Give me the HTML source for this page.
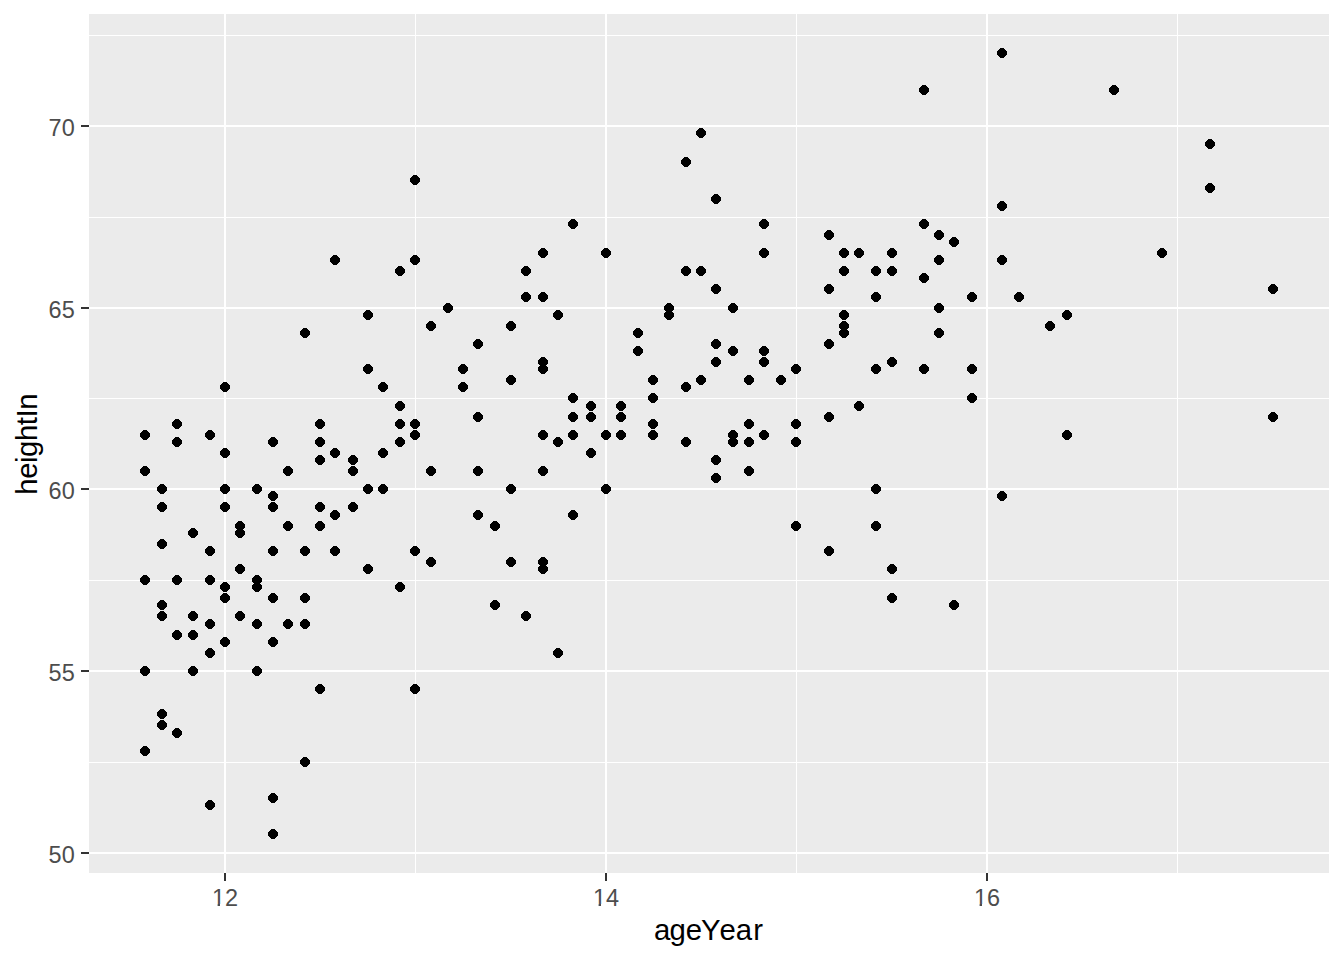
<!DOCTYPE html>
<html><head><meta charset="utf-8"><title>plot</title>
<style>
html,body{margin:0;padding:0;background:#fff;}
body{width:1344px;height:960px;overflow:hidden;}
svg{display:block;}
text{font-family:"Liberation Sans",sans-serif;}
.tk{font-size:23.47px;fill:#4D4D4D;}
.ti{font-size:29.33px;fill:#000;}
</style></head><body>
<svg width="1344" height="960" viewBox="0 0 1344 960">
<rect x="0" y="0" width="1344" height="960" fill="#fff"/>
<g shape-rendering="crispEdges">
<rect x="89" y="14" width="1240" height="859" fill="#EBEBEB"/>
<g fill="#fff">
<rect x="89" y="762" width="1240" height="1"/><rect x="89" y="580" width="1240" height="1"/><rect x="89" y="398" width="1240" height="1"/><rect x="89" y="217" width="1240" height="1"/><rect x="89" y="35" width="1240" height="1"/><rect x="415" y="14" width="1" height="859"/><rect x="796" y="14" width="1" height="859"/><rect x="1177" y="14" width="1" height="859"/>
<rect x="89" y="852" width="1240" height="2"/><rect x="89" y="670" width="1240" height="2"/><rect x="89" y="488" width="1240" height="2"/><rect x="89" y="307" width="1240" height="2"/><rect x="89" y="125" width="1240" height="2"/><rect x="224" y="14" width="2" height="859"/><rect x="605" y="14" width="2" height="859"/><rect x="986" y="14" width="2" height="859"/>
</g>
<g fill="#333">
<rect x="81" y="852" width="8" height="2"/><rect x="81" y="670" width="8" height="2"/><rect x="81" y="488" width="8" height="2"/><rect x="81" y="307" width="8" height="2"/><rect x="81" y="125" width="8" height="2"/><rect x="224" y="873" width="2" height="8"/><rect x="605" y="873" width="2" height="8"/><rect x="986" y="873" width="2" height="8"/>
</g>
<g fill="#000">
<path d="M143,746h4v1h1v1h1v1h1v4h-1v1h-1v1h-1v1h-4v-1h-1v-1h-1v-1h-1v-4h1v-1h1v-1h1z"/>
<path d="M143,666h4v1h1v1h1v1h1v4h-1v1h-1v1h-1v1h-4v-1h-1v-1h-1v-1h-1v-4h1v-1h1v-1h1z"/>
<path d="M143,575h4v1h1v1h1v1h1v4h-1v1h-1v1h-1v1h-4v-1h-1v-1h-1v-1h-1v-4h1v-1h1v-1h1z"/>
<path d="M143,466h4v1h1v1h1v1h1v4h-1v1h-1v1h-1v1h-4v-1h-1v-1h-1v-1h-1v-4h1v-1h1v-1h1z"/>
<path d="M143,430h4v1h1v1h1v1h1v4h-1v1h-1v1h-1v1h-4v-1h-1v-1h-1v-1h-1v-4h1v-1h1v-1h1z"/>
<path d="M160,720h4v1h1v1h1v1h1v4h-1v1h-1v1h-1v1h-4v-1h-1v-1h-1v-1h-1v-4h1v-1h1v-1h1z"/>
<path d="M160,709h4v1h1v1h1v1h1v4h-1v1h-1v1h-1v1h-4v-1h-1v-1h-1v-1h-1v-4h1v-1h1v-1h1z"/>
<path d="M160,611h4v1h1v1h1v1h1v4h-1v1h-1v1h-1v1h-4v-1h-1v-1h-1v-1h-1v-4h1v-1h1v-1h1z"/>
<path d="M160,600h4v1h1v1h1v1h1v4h-1v1h-1v1h-1v1h-4v-1h-1v-1h-1v-1h-1v-4h1v-1h1v-1h1z"/>
<path d="M160,539h4v1h1v1h1v1h1v4h-1v1h-1v1h-1v1h-4v-1h-1v-1h-1v-1h-1v-4h1v-1h1v-1h1z"/>
<path d="M160,502h4v1h1v1h1v1h1v4h-1v1h-1v1h-1v1h-4v-1h-1v-1h-1v-1h-1v-4h1v-1h1v-1h1z"/>
<path d="M160,484h4v1h1v1h1v1h1v4h-1v1h-1v1h-1v1h-4v-1h-1v-1h-1v-1h-1v-4h1v-1h1v-1h1z"/>
<path d="M175,728h4v1h1v1h1v1h1v4h-1v1h-1v1h-1v1h-4v-1h-1v-1h-1v-1h-1v-4h1v-1h1v-1h1z"/>
<path d="M175,630h4v1h1v1h1v1h1v4h-1v1h-1v1h-1v1h-4v-1h-1v-1h-1v-1h-1v-4h1v-1h1v-1h1z"/>
<path d="M175,575h4v1h1v1h1v1h1v4h-1v1h-1v1h-1v1h-4v-1h-1v-1h-1v-1h-1v-4h1v-1h1v-1h1z"/>
<path d="M175,437h4v1h1v1h1v1h1v4h-1v1h-1v1h-1v1h-4v-1h-1v-1h-1v-1h-1v-4h1v-1h1v-1h1z"/>
<path d="M175,419h4v1h1v1h1v1h1v4h-1v1h-1v1h-1v1h-4v-1h-1v-1h-1v-1h-1v-4h1v-1h1v-1h1z"/>
<path d="M191,666h4v1h1v1h1v1h1v4h-1v1h-1v1h-1v1h-4v-1h-1v-1h-1v-1h-1v-4h1v-1h1v-1h1z"/>
<path d="M191,630h4v1h1v1h1v1h1v4h-1v1h-1v1h-1v1h-4v-1h-1v-1h-1v-1h-1v-4h1v-1h1v-1h1z"/>
<path d="M191,611h4v1h1v1h1v1h1v4h-1v1h-1v1h-1v1h-4v-1h-1v-1h-1v-1h-1v-4h1v-1h1v-1h1z"/>
<path d="M191,528h4v1h1v1h1v1h1v4h-1v1h-1v1h-1v1h-4v-1h-1v-1h-1v-1h-1v-4h1v-1h1v-1h1z"/>
<path d="M208,800h4v1h1v1h1v1h1v4h-1v1h-1v1h-1v1h-4v-1h-1v-1h-1v-1h-1v-4h1v-1h1v-1h1z"/>
<path d="M208,648h4v1h1v1h1v1h1v4h-1v1h-1v1h-1v1h-4v-1h-1v-1h-1v-1h-1v-4h1v-1h1v-1h1z"/>
<path d="M208,619h4v1h1v1h1v1h1v4h-1v1h-1v1h-1v1h-4v-1h-1v-1h-1v-1h-1v-4h1v-1h1v-1h1z"/>
<path d="M208,575h4v1h1v1h1v1h1v4h-1v1h-1v1h-1v1h-4v-1h-1v-1h-1v-1h-1v-4h1v-1h1v-1h1z"/>
<path d="M208,546h4v1h1v1h1v1h1v4h-1v1h-1v1h-1v1h-4v-1h-1v-1h-1v-1h-1v-4h1v-1h1v-1h1z"/>
<path d="M208,430h4v1h1v1h1v1h1v4h-1v1h-1v1h-1v1h-4v-1h-1v-1h-1v-1h-1v-4h1v-1h1v-1h1z"/>
<path d="M223,637h4v1h1v1h1v1h1v4h-1v1h-1v1h-1v1h-4v-1h-1v-1h-1v-1h-1v-4h1v-1h1v-1h1z"/>
<path d="M223,593h4v1h1v1h1v1h1v4h-1v1h-1v1h-1v1h-4v-1h-1v-1h-1v-1h-1v-4h1v-1h1v-1h1z"/>
<path d="M223,582h4v1h1v1h1v1h1v4h-1v1h-1v1h-1v1h-4v-1h-1v-1h-1v-1h-1v-4h1v-1h1v-1h1z"/>
<path d="M223,502h4v1h1v1h1v1h1v4h-1v1h-1v1h-1v1h-4v-1h-1v-1h-1v-1h-1v-4h1v-1h1v-1h1z"/>
<path d="M223,484h4v1h1v1h1v1h1v4h-1v1h-1v1h-1v1h-4v-1h-1v-1h-1v-1h-1v-4h1v-1h1v-1h1z"/>
<path d="M223,448h4v1h1v1h1v1h1v4h-1v1h-1v1h-1v1h-4v-1h-1v-1h-1v-1h-1v-4h1v-1h1v-1h1z"/>
<path d="M223,382h4v1h1v1h1v1h1v4h-1v1h-1v1h-1v1h-4v-1h-1v-1h-1v-1h-1v-4h1v-1h1v-1h1z"/>
<path d="M238,611h4v1h1v1h1v1h1v4h-1v1h-1v1h-1v1h-4v-1h-1v-1h-1v-1h-1v-4h1v-1h1v-1h1z"/>
<path d="M238,564h4v1h1v1h1v1h1v4h-1v1h-1v1h-1v1h-4v-1h-1v-1h-1v-1h-1v-4h1v-1h1v-1h1z"/>
<path d="M238,528h4v1h1v1h1v1h1v4h-1v1h-1v1h-1v1h-4v-1h-1v-1h-1v-1h-1v-4h1v-1h1v-1h1z"/>
<path d="M238,521h4v1h1v1h1v1h1v4h-1v1h-1v1h-1v1h-4v-1h-1v-1h-1v-1h-1v-4h1v-1h1v-1h1z"/>
<path d="M255,666h4v1h1v1h1v1h1v4h-1v1h-1v1h-1v1h-4v-1h-1v-1h-1v-1h-1v-4h1v-1h1v-1h1z"/>
<path d="M255,619h4v1h1v1h1v1h1v4h-1v1h-1v1h-1v1h-4v-1h-1v-1h-1v-1h-1v-4h1v-1h1v-1h1z"/>
<path d="M255,582h4v1h1v1h1v1h1v4h-1v1h-1v1h-1v1h-4v-1h-1v-1h-1v-1h-1v-4h1v-1h1v-1h1z"/>
<path d="M255,575h4v1h1v1h1v1h1v4h-1v1h-1v1h-1v1h-4v-1h-1v-1h-1v-1h-1v-4h1v-1h1v-1h1z"/>
<path d="M255,484h4v1h1v1h1v1h1v4h-1v1h-1v1h-1v1h-4v-1h-1v-1h-1v-1h-1v-4h1v-1h1v-1h1z"/>
<path d="M271,829h4v1h1v1h1v1h1v4h-1v1h-1v1h-1v1h-4v-1h-1v-1h-1v-1h-1v-4h1v-1h1v-1h1z"/>
<path d="M271,793h4v1h1v1h1v1h1v4h-1v1h-1v1h-1v1h-4v-1h-1v-1h-1v-1h-1v-4h1v-1h1v-1h1z"/>
<path d="M271,637h4v1h1v1h1v1h1v4h-1v1h-1v1h-1v1h-4v-1h-1v-1h-1v-1h-1v-4h1v-1h1v-1h1z"/>
<path d="M271,593h4v1h1v1h1v1h1v4h-1v1h-1v1h-1v1h-4v-1h-1v-1h-1v-1h-1v-4h1v-1h1v-1h1z"/>
<path d="M271,546h4v1h1v1h1v1h1v4h-1v1h-1v1h-1v1h-4v-1h-1v-1h-1v-1h-1v-4h1v-1h1v-1h1z"/>
<path d="M271,502h4v1h1v1h1v1h1v4h-1v1h-1v1h-1v1h-4v-1h-1v-1h-1v-1h-1v-4h1v-1h1v-1h1z"/>
<path d="M271,491h4v1h1v1h1v1h1v4h-1v1h-1v1h-1v1h-4v-1h-1v-1h-1v-1h-1v-4h1v-1h1v-1h1z"/>
<path d="M271,437h4v1h1v1h1v1h1v4h-1v1h-1v1h-1v1h-4v-1h-1v-1h-1v-1h-1v-4h1v-1h1v-1h1z"/>
<path d="M286,619h4v1h1v1h1v1h1v4h-1v1h-1v1h-1v1h-4v-1h-1v-1h-1v-1h-1v-4h1v-1h1v-1h1z"/>
<path d="M286,521h4v1h1v1h1v1h1v4h-1v1h-1v1h-1v1h-4v-1h-1v-1h-1v-1h-1v-4h1v-1h1v-1h1z"/>
<path d="M286,466h4v1h1v1h1v1h1v4h-1v1h-1v1h-1v1h-4v-1h-1v-1h-1v-1h-1v-4h1v-1h1v-1h1z"/>
<path d="M303,757h4v1h1v1h1v1h1v4h-1v1h-1v1h-1v1h-4v-1h-1v-1h-1v-1h-1v-4h1v-1h1v-1h1z"/>
<path d="M303,619h4v1h1v1h1v1h1v4h-1v1h-1v1h-1v1h-4v-1h-1v-1h-1v-1h-1v-4h1v-1h1v-1h1z"/>
<path d="M303,593h4v1h1v1h1v1h1v4h-1v1h-1v1h-1v1h-4v-1h-1v-1h-1v-1h-1v-4h1v-1h1v-1h1z"/>
<path d="M303,546h4v1h1v1h1v1h1v4h-1v1h-1v1h-1v1h-4v-1h-1v-1h-1v-1h-1v-4h1v-1h1v-1h1z"/>
<path d="M303,328h4v1h1v1h1v1h1v4h-1v1h-1v1h-1v1h-4v-1h-1v-1h-1v-1h-1v-4h1v-1h1v-1h1z"/>
<path d="M318,684h4v1h1v1h1v1h1v4h-1v1h-1v1h-1v1h-4v-1h-1v-1h-1v-1h-1v-4h1v-1h1v-1h1z"/>
<path d="M318,521h4v1h1v1h1v1h1v4h-1v1h-1v1h-1v1h-4v-1h-1v-1h-1v-1h-1v-4h1v-1h1v-1h1z"/>
<path d="M318,502h4v1h1v1h1v1h1v4h-1v1h-1v1h-1v1h-4v-1h-1v-1h-1v-1h-1v-4h1v-1h1v-1h1z"/>
<path d="M318,455h4v1h1v1h1v1h1v4h-1v1h-1v1h-1v1h-4v-1h-1v-1h-1v-1h-1v-4h1v-1h1v-1h1z"/>
<path d="M318,437h4v1h1v1h1v1h1v4h-1v1h-1v1h-1v1h-4v-1h-1v-1h-1v-1h-1v-4h1v-1h1v-1h1z"/>
<path d="M318,419h4v1h1v1h1v1h1v4h-1v1h-1v1h-1v1h-4v-1h-1v-1h-1v-1h-1v-4h1v-1h1v-1h1z"/>
<path d="M333,546h4v1h1v1h1v1h1v4h-1v1h-1v1h-1v1h-4v-1h-1v-1h-1v-1h-1v-4h1v-1h1v-1h1z"/>
<path d="M333,510h4v1h1v1h1v1h1v4h-1v1h-1v1h-1v1h-4v-1h-1v-1h-1v-1h-1v-4h1v-1h1v-1h1z"/>
<path d="M333,448h4v1h1v1h1v1h1v4h-1v1h-1v1h-1v1h-4v-1h-1v-1h-1v-1h-1v-4h1v-1h1v-1h1z"/>
<path d="M333,255h4v1h1v1h1v1h1v4h-1v1h-1v1h-1v1h-4v-1h-1v-1h-1v-1h-1v-4h1v-1h1v-1h1z"/>
<path d="M351,502h4v1h1v1h1v1h1v4h-1v1h-1v1h-1v1h-4v-1h-1v-1h-1v-1h-1v-4h1v-1h1v-1h1z"/>
<path d="M351,466h4v1h1v1h1v1h1v4h-1v1h-1v1h-1v1h-4v-1h-1v-1h-1v-1h-1v-4h1v-1h1v-1h1z"/>
<path d="M351,455h4v1h1v1h1v1h1v4h-1v1h-1v1h-1v1h-4v-1h-1v-1h-1v-1h-1v-4h1v-1h1v-1h1z"/>
<path d="M366,564h4v1h1v1h1v1h1v4h-1v1h-1v1h-1v1h-4v-1h-1v-1h-1v-1h-1v-4h1v-1h1v-1h1z"/>
<path d="M366,484h4v1h1v1h1v1h1v4h-1v1h-1v1h-1v1h-4v-1h-1v-1h-1v-1h-1v-4h1v-1h1v-1h1z"/>
<path d="M366,364h4v1h1v1h1v1h1v4h-1v1h-1v1h-1v1h-4v-1h-1v-1h-1v-1h-1v-4h1v-1h1v-1h1z"/>
<path d="M366,310h4v1h1v1h1v1h1v4h-1v1h-1v1h-1v1h-4v-1h-1v-1h-1v-1h-1v-4h1v-1h1v-1h1z"/>
<path d="M381,484h4v1h1v1h1v1h1v4h-1v1h-1v1h-1v1h-4v-1h-1v-1h-1v-1h-1v-4h1v-1h1v-1h1z"/>
<path d="M381,448h4v1h1v1h1v1h1v4h-1v1h-1v1h-1v1h-4v-1h-1v-1h-1v-1h-1v-4h1v-1h1v-1h1z"/>
<path d="M381,382h4v1h1v1h1v1h1v4h-1v1h-1v1h-1v1h-4v-1h-1v-1h-1v-1h-1v-4h1v-1h1v-1h1z"/>
<path d="M398,582h4v1h1v1h1v1h1v4h-1v1h-1v1h-1v1h-4v-1h-1v-1h-1v-1h-1v-4h1v-1h1v-1h1z"/>
<path d="M398,437h4v1h1v1h1v1h1v4h-1v1h-1v1h-1v1h-4v-1h-1v-1h-1v-1h-1v-4h1v-1h1v-1h1z"/>
<path d="M398,419h4v1h1v1h1v1h1v4h-1v1h-1v1h-1v1h-4v-1h-1v-1h-1v-1h-1v-4h1v-1h1v-1h1z"/>
<path d="M398,401h4v1h1v1h1v1h1v4h-1v1h-1v1h-1v1h-4v-1h-1v-1h-1v-1h-1v-4h1v-1h1v-1h1z"/>
<path d="M398,266h4v1h1v1h1v1h1v4h-1v1h-1v1h-1v1h-4v-1h-1v-1h-1v-1h-1v-4h1v-1h1v-1h1z"/>
<path d="M413,684h4v1h1v1h1v1h1v4h-1v1h-1v1h-1v1h-4v-1h-1v-1h-1v-1h-1v-4h1v-1h1v-1h1z"/>
<path d="M413,546h4v1h1v1h1v1h1v4h-1v1h-1v1h-1v1h-4v-1h-1v-1h-1v-1h-1v-4h1v-1h1v-1h1z"/>
<path d="M413,430h4v1h1v1h1v1h1v4h-1v1h-1v1h-1v1h-4v-1h-1v-1h-1v-1h-1v-4h1v-1h1v-1h1z"/>
<path d="M413,419h4v1h1v1h1v1h1v4h-1v1h-1v1h-1v1h-4v-1h-1v-1h-1v-1h-1v-4h1v-1h1v-1h1z"/>
<path d="M413,255h4v1h1v1h1v1h1v4h-1v1h-1v1h-1v1h-4v-1h-1v-1h-1v-1h-1v-4h1v-1h1v-1h1z"/>
<path d="M413,175h4v1h1v1h1v1h1v4h-1v1h-1v1h-1v1h-4v-1h-1v-1h-1v-1h-1v-4h1v-1h1v-1h1z"/>
<path d="M429,557h4v1h1v1h1v1h1v4h-1v1h-1v1h-1v1h-4v-1h-1v-1h-1v-1h-1v-4h1v-1h1v-1h1z"/>
<path d="M429,466h4v1h1v1h1v1h1v4h-1v1h-1v1h-1v1h-4v-1h-1v-1h-1v-1h-1v-4h1v-1h1v-1h1z"/>
<path d="M429,321h4v1h1v1h1v1h1v4h-1v1h-1v1h-1v1h-4v-1h-1v-1h-1v-1h-1v-4h1v-1h1v-1h1z"/>
<path d="M446,303h4v1h1v1h1v1h1v4h-1v1h-1v1h-1v1h-4v-1h-1v-1h-1v-1h-1v-4h1v-1h1v-1h1z"/>
<path d="M461,382h4v1h1v1h1v1h1v4h-1v1h-1v1h-1v1h-4v-1h-1v-1h-1v-1h-1v-4h1v-1h1v-1h1z"/>
<path d="M461,364h4v1h1v1h1v1h1v4h-1v1h-1v1h-1v1h-4v-1h-1v-1h-1v-1h-1v-4h1v-1h1v-1h1z"/>
<path d="M476,510h4v1h1v1h1v1h1v4h-1v1h-1v1h-1v1h-4v-1h-1v-1h-1v-1h-1v-4h1v-1h1v-1h1z"/>
<path d="M476,466h4v1h1v1h1v1h1v4h-1v1h-1v1h-1v1h-4v-1h-1v-1h-1v-1h-1v-4h1v-1h1v-1h1z"/>
<path d="M476,412h4v1h1v1h1v1h1v4h-1v1h-1v1h-1v1h-4v-1h-1v-1h-1v-1h-1v-4h1v-1h1v-1h1z"/>
<path d="M476,339h4v1h1v1h1v1h1v4h-1v1h-1v1h-1v1h-4v-1h-1v-1h-1v-1h-1v-4h1v-1h1v-1h1z"/>
<path d="M493,600h4v1h1v1h1v1h1v4h-1v1h-1v1h-1v1h-4v-1h-1v-1h-1v-1h-1v-4h1v-1h1v-1h1z"/>
<path d="M493,521h4v1h1v1h1v1h1v4h-1v1h-1v1h-1v1h-4v-1h-1v-1h-1v-1h-1v-4h1v-1h1v-1h1z"/>
<path d="M509,557h4v1h1v1h1v1h1v4h-1v1h-1v1h-1v1h-4v-1h-1v-1h-1v-1h-1v-4h1v-1h1v-1h1z"/>
<path d="M509,484h4v1h1v1h1v1h1v4h-1v1h-1v1h-1v1h-4v-1h-1v-1h-1v-1h-1v-4h1v-1h1v-1h1z"/>
<path d="M509,375h4v1h1v1h1v1h1v4h-1v1h-1v1h-1v1h-4v-1h-1v-1h-1v-1h-1v-4h1v-1h1v-1h1z"/>
<path d="M509,321h4v1h1v1h1v1h1v4h-1v1h-1v1h-1v1h-4v-1h-1v-1h-1v-1h-1v-4h1v-1h1v-1h1z"/>
<path d="M524,611h4v1h1v1h1v1h1v4h-1v1h-1v1h-1v1h-4v-1h-1v-1h-1v-1h-1v-4h1v-1h1v-1h1z"/>
<path d="M524,292h4v1h1v1h1v1h1v4h-1v1h-1v1h-1v1h-4v-1h-1v-1h-1v-1h-1v-4h1v-1h1v-1h1z"/>
<path d="M524,266h4v1h1v1h1v1h1v4h-1v1h-1v1h-1v1h-4v-1h-1v-1h-1v-1h-1v-4h1v-1h1v-1h1z"/>
<path d="M541,564h4v1h1v1h1v1h1v4h-1v1h-1v1h-1v1h-4v-1h-1v-1h-1v-1h-1v-4h1v-1h1v-1h1z"/>
<path d="M541,557h4v1h1v1h1v1h1v4h-1v1h-1v1h-1v1h-4v-1h-1v-1h-1v-1h-1v-4h1v-1h1v-1h1z"/>
<path d="M541,466h4v1h1v1h1v1h1v4h-1v1h-1v1h-1v1h-4v-1h-1v-1h-1v-1h-1v-4h1v-1h1v-1h1z"/>
<path d="M541,430h4v1h1v1h1v1h1v4h-1v1h-1v1h-1v1h-4v-1h-1v-1h-1v-1h-1v-4h1v-1h1v-1h1z"/>
<path d="M541,364h4v1h1v1h1v1h1v4h-1v1h-1v1h-1v1h-4v-1h-1v-1h-1v-1h-1v-4h1v-1h1v-1h1z"/>
<path d="M541,357h4v1h1v1h1v1h1v4h-1v1h-1v1h-1v1h-4v-1h-1v-1h-1v-1h-1v-4h1v-1h1v-1h1z"/>
<path d="M541,292h4v1h1v1h1v1h1v4h-1v1h-1v1h-1v1h-4v-1h-1v-1h-1v-1h-1v-4h1v-1h1v-1h1z"/>
<path d="M541,248h4v1h1v1h1v1h1v4h-1v1h-1v1h-1v1h-4v-1h-1v-1h-1v-1h-1v-4h1v-1h1v-1h1z"/>
<path d="M556,648h4v1h1v1h1v1h1v4h-1v1h-1v1h-1v1h-4v-1h-1v-1h-1v-1h-1v-4h1v-1h1v-1h1z"/>
<path d="M556,437h4v1h1v1h1v1h1v4h-1v1h-1v1h-1v1h-4v-1h-1v-1h-1v-1h-1v-4h1v-1h1v-1h1z"/>
<path d="M556,310h4v1h1v1h1v1h1v4h-1v1h-1v1h-1v1h-4v-1h-1v-1h-1v-1h-1v-4h1v-1h1v-1h1z"/>
<path d="M571,510h4v1h1v1h1v1h1v4h-1v1h-1v1h-1v1h-4v-1h-1v-1h-1v-1h-1v-4h1v-1h1v-1h1z"/>
<path d="M571,430h4v1h1v1h1v1h1v4h-1v1h-1v1h-1v1h-4v-1h-1v-1h-1v-1h-1v-4h1v-1h1v-1h1z"/>
<path d="M571,412h4v1h1v1h1v1h1v4h-1v1h-1v1h-1v1h-4v-1h-1v-1h-1v-1h-1v-4h1v-1h1v-1h1z"/>
<path d="M571,393h4v1h1v1h1v1h1v4h-1v1h-1v1h-1v1h-4v-1h-1v-1h-1v-1h-1v-4h1v-1h1v-1h1z"/>
<path d="M571,219h4v1h1v1h1v1h1v4h-1v1h-1v1h-1v1h-4v-1h-1v-1h-1v-1h-1v-4h1v-1h1v-1h1z"/>
<path d="M589,448h4v1h1v1h1v1h1v4h-1v1h-1v1h-1v1h-4v-1h-1v-1h-1v-1h-1v-4h1v-1h1v-1h1z"/>
<path d="M589,412h4v1h1v1h1v1h1v4h-1v1h-1v1h-1v1h-4v-1h-1v-1h-1v-1h-1v-4h1v-1h1v-1h1z"/>
<path d="M589,401h4v1h1v1h1v1h1v4h-1v1h-1v1h-1v1h-4v-1h-1v-1h-1v-1h-1v-4h1v-1h1v-1h1z"/>
<path d="M604,484h4v1h1v1h1v1h1v4h-1v1h-1v1h-1v1h-4v-1h-1v-1h-1v-1h-1v-4h1v-1h1v-1h1z"/>
<path d="M604,430h4v1h1v1h1v1h1v4h-1v1h-1v1h-1v1h-4v-1h-1v-1h-1v-1h-1v-4h1v-1h1v-1h1z"/>
<path d="M604,248h4v1h1v1h1v1h1v4h-1v1h-1v1h-1v1h-4v-1h-1v-1h-1v-1h-1v-4h1v-1h1v-1h1z"/>
<path d="M619,430h4v1h1v1h1v1h1v4h-1v1h-1v1h-1v1h-4v-1h-1v-1h-1v-1h-1v-4h1v-1h1v-1h1z"/>
<path d="M619,412h4v1h1v1h1v1h1v4h-1v1h-1v1h-1v1h-4v-1h-1v-1h-1v-1h-1v-4h1v-1h1v-1h1z"/>
<path d="M619,401h4v1h1v1h1v1h1v4h-1v1h-1v1h-1v1h-4v-1h-1v-1h-1v-1h-1v-4h1v-1h1v-1h1z"/>
<path d="M636,346h4v1h1v1h1v1h1v4h-1v1h-1v1h-1v1h-4v-1h-1v-1h-1v-1h-1v-4h1v-1h1v-1h1z"/>
<path d="M636,328h4v1h1v1h1v1h1v4h-1v1h-1v1h-1v1h-4v-1h-1v-1h-1v-1h-1v-4h1v-1h1v-1h1z"/>
<path d="M651,430h4v1h1v1h1v1h1v4h-1v1h-1v1h-1v1h-4v-1h-1v-1h-1v-1h-1v-4h1v-1h1v-1h1z"/>
<path d="M651,419h4v1h1v1h1v1h1v4h-1v1h-1v1h-1v1h-4v-1h-1v-1h-1v-1h-1v-4h1v-1h1v-1h1z"/>
<path d="M651,393h4v1h1v1h1v1h1v4h-1v1h-1v1h-1v1h-4v-1h-1v-1h-1v-1h-1v-4h1v-1h1v-1h1z"/>
<path d="M651,375h4v1h1v1h1v1h1v4h-1v1h-1v1h-1v1h-4v-1h-1v-1h-1v-1h-1v-4h1v-1h1v-1h1z"/>
<path d="M667,310h4v1h1v1h1v1h1v4h-1v1h-1v1h-1v1h-4v-1h-1v-1h-1v-1h-1v-4h1v-1h1v-1h1z"/>
<path d="M667,303h4v1h1v1h1v1h1v4h-1v1h-1v1h-1v1h-4v-1h-1v-1h-1v-1h-1v-4h1v-1h1v-1h1z"/>
<path d="M684,437h4v1h1v1h1v1h1v4h-1v1h-1v1h-1v1h-4v-1h-1v-1h-1v-1h-1v-4h1v-1h1v-1h1z"/>
<path d="M684,382h4v1h1v1h1v1h1v4h-1v1h-1v1h-1v1h-4v-1h-1v-1h-1v-1h-1v-4h1v-1h1v-1h1z"/>
<path d="M684,266h4v1h1v1h1v1h1v4h-1v1h-1v1h-1v1h-4v-1h-1v-1h-1v-1h-1v-4h1v-1h1v-1h1z"/>
<path d="M684,157h4v1h1v1h1v1h1v4h-1v1h-1v1h-1v1h-4v-1h-1v-1h-1v-1h-1v-4h1v-1h1v-1h1z"/>
<path d="M699,375h4v1h1v1h1v1h1v4h-1v1h-1v1h-1v1h-4v-1h-1v-1h-1v-1h-1v-4h1v-1h1v-1h1z"/>
<path d="M699,266h4v1h1v1h1v1h1v4h-1v1h-1v1h-1v1h-4v-1h-1v-1h-1v-1h-1v-4h1v-1h1v-1h1z"/>
<path d="M699,128h4v1h1v1h1v1h1v4h-1v1h-1v1h-1v1h-4v-1h-1v-1h-1v-1h-1v-4h1v-1h1v-1h1z"/>
<path d="M714,473h4v1h1v1h1v1h1v4h-1v1h-1v1h-1v1h-4v-1h-1v-1h-1v-1h-1v-4h1v-1h1v-1h1z"/>
<path d="M714,455h4v1h1v1h1v1h1v4h-1v1h-1v1h-1v1h-4v-1h-1v-1h-1v-1h-1v-4h1v-1h1v-1h1z"/>
<path d="M714,357h4v1h1v1h1v1h1v4h-1v1h-1v1h-1v1h-4v-1h-1v-1h-1v-1h-1v-4h1v-1h1v-1h1z"/>
<path d="M714,339h4v1h1v1h1v1h1v4h-1v1h-1v1h-1v1h-4v-1h-1v-1h-1v-1h-1v-4h1v-1h1v-1h1z"/>
<path d="M714,284h4v1h1v1h1v1h1v4h-1v1h-1v1h-1v1h-4v-1h-1v-1h-1v-1h-1v-4h1v-1h1v-1h1z"/>
<path d="M714,194h4v1h1v1h1v1h1v4h-1v1h-1v1h-1v1h-4v-1h-1v-1h-1v-1h-1v-4h1v-1h1v-1h1z"/>
<path d="M731,437h4v1h1v1h1v1h1v4h-1v1h-1v1h-1v1h-4v-1h-1v-1h-1v-1h-1v-4h1v-1h1v-1h1z"/>
<path d="M731,430h4v1h1v1h1v1h1v4h-1v1h-1v1h-1v1h-4v-1h-1v-1h-1v-1h-1v-4h1v-1h1v-1h1z"/>
<path d="M731,346h4v1h1v1h1v1h1v4h-1v1h-1v1h-1v1h-4v-1h-1v-1h-1v-1h-1v-4h1v-1h1v-1h1z"/>
<path d="M731,303h4v1h1v1h1v1h1v4h-1v1h-1v1h-1v1h-4v-1h-1v-1h-1v-1h-1v-4h1v-1h1v-1h1z"/>
<path d="M747,466h4v1h1v1h1v1h1v4h-1v1h-1v1h-1v1h-4v-1h-1v-1h-1v-1h-1v-4h1v-1h1v-1h1z"/>
<path d="M747,437h4v1h1v1h1v1h1v4h-1v1h-1v1h-1v1h-4v-1h-1v-1h-1v-1h-1v-4h1v-1h1v-1h1z"/>
<path d="M747,419h4v1h1v1h1v1h1v4h-1v1h-1v1h-1v1h-4v-1h-1v-1h-1v-1h-1v-4h1v-1h1v-1h1z"/>
<path d="M747,375h4v1h1v1h1v1h1v4h-1v1h-1v1h-1v1h-4v-1h-1v-1h-1v-1h-1v-4h1v-1h1v-1h1z"/>
<path d="M762,430h4v1h1v1h1v1h1v4h-1v1h-1v1h-1v1h-4v-1h-1v-1h-1v-1h-1v-4h1v-1h1v-1h1z"/>
<path d="M762,357h4v1h1v1h1v1h1v4h-1v1h-1v1h-1v1h-4v-1h-1v-1h-1v-1h-1v-4h1v-1h1v-1h1z"/>
<path d="M762,346h4v1h1v1h1v1h1v4h-1v1h-1v1h-1v1h-4v-1h-1v-1h-1v-1h-1v-4h1v-1h1v-1h1z"/>
<path d="M762,248h4v1h1v1h1v1h1v4h-1v1h-1v1h-1v1h-4v-1h-1v-1h-1v-1h-1v-4h1v-1h1v-1h1z"/>
<path d="M762,219h4v1h1v1h1v1h1v4h-1v1h-1v1h-1v1h-4v-1h-1v-1h-1v-1h-1v-4h1v-1h1v-1h1z"/>
<path d="M779,375h4v1h1v1h1v1h1v4h-1v1h-1v1h-1v1h-4v-1h-1v-1h-1v-1h-1v-4h1v-1h1v-1h1z"/>
<path d="M794,521h4v1h1v1h1v1h1v4h-1v1h-1v1h-1v1h-4v-1h-1v-1h-1v-1h-1v-4h1v-1h1v-1h1z"/>
<path d="M794,437h4v1h1v1h1v1h1v4h-1v1h-1v1h-1v1h-4v-1h-1v-1h-1v-1h-1v-4h1v-1h1v-1h1z"/>
<path d="M794,419h4v1h1v1h1v1h1v4h-1v1h-1v1h-1v1h-4v-1h-1v-1h-1v-1h-1v-4h1v-1h1v-1h1z"/>
<path d="M794,364h4v1h1v1h1v1h1v4h-1v1h-1v1h-1v1h-4v-1h-1v-1h-1v-1h-1v-4h1v-1h1v-1h1z"/>
<path d="M827,546h4v1h1v1h1v1h1v4h-1v1h-1v1h-1v1h-4v-1h-1v-1h-1v-1h-1v-4h1v-1h1v-1h1z"/>
<path d="M827,412h4v1h1v1h1v1h1v4h-1v1h-1v1h-1v1h-4v-1h-1v-1h-1v-1h-1v-4h1v-1h1v-1h1z"/>
<path d="M827,339h4v1h1v1h1v1h1v4h-1v1h-1v1h-1v1h-4v-1h-1v-1h-1v-1h-1v-4h1v-1h1v-1h1z"/>
<path d="M827,284h4v1h1v1h1v1h1v4h-1v1h-1v1h-1v1h-4v-1h-1v-1h-1v-1h-1v-4h1v-1h1v-1h1z"/>
<path d="M827,230h4v1h1v1h1v1h1v4h-1v1h-1v1h-1v1h-4v-1h-1v-1h-1v-1h-1v-4h1v-1h1v-1h1z"/>
<path d="M842,328h4v1h1v1h1v1h1v4h-1v1h-1v1h-1v1h-4v-1h-1v-1h-1v-1h-1v-4h1v-1h1v-1h1z"/>
<path d="M842,321h4v1h1v1h1v1h1v4h-1v1h-1v1h-1v1h-4v-1h-1v-1h-1v-1h-1v-4h1v-1h1v-1h1z"/>
<path d="M842,310h4v1h1v1h1v1h1v4h-1v1h-1v1h-1v1h-4v-1h-1v-1h-1v-1h-1v-4h1v-1h1v-1h1z"/>
<path d="M842,266h4v1h1v1h1v1h1v4h-1v1h-1v1h-1v1h-4v-1h-1v-1h-1v-1h-1v-4h1v-1h1v-1h1z"/>
<path d="M842,248h4v1h1v1h1v1h1v4h-1v1h-1v1h-1v1h-4v-1h-1v-1h-1v-1h-1v-4h1v-1h1v-1h1z"/>
<path d="M857,401h4v1h1v1h1v1h1v4h-1v1h-1v1h-1v1h-4v-1h-1v-1h-1v-1h-1v-4h1v-1h1v-1h1z"/>
<path d="M857,248h4v1h1v1h1v1h1v4h-1v1h-1v1h-1v1h-4v-1h-1v-1h-1v-1h-1v-4h1v-1h1v-1h1z"/>
<path d="M874,521h4v1h1v1h1v1h1v4h-1v1h-1v1h-1v1h-4v-1h-1v-1h-1v-1h-1v-4h1v-1h1v-1h1z"/>
<path d="M874,484h4v1h1v1h1v1h1v4h-1v1h-1v1h-1v1h-4v-1h-1v-1h-1v-1h-1v-4h1v-1h1v-1h1z"/>
<path d="M874,364h4v1h1v1h1v1h1v4h-1v1h-1v1h-1v1h-4v-1h-1v-1h-1v-1h-1v-4h1v-1h1v-1h1z"/>
<path d="M874,292h4v1h1v1h1v1h1v4h-1v1h-1v1h-1v1h-4v-1h-1v-1h-1v-1h-1v-4h1v-1h1v-1h1z"/>
<path d="M874,266h4v1h1v1h1v1h1v4h-1v1h-1v1h-1v1h-4v-1h-1v-1h-1v-1h-1v-4h1v-1h1v-1h1z"/>
<path d="M890,593h4v1h1v1h1v1h1v4h-1v1h-1v1h-1v1h-4v-1h-1v-1h-1v-1h-1v-4h1v-1h1v-1h1z"/>
<path d="M890,564h4v1h1v1h1v1h1v4h-1v1h-1v1h-1v1h-4v-1h-1v-1h-1v-1h-1v-4h1v-1h1v-1h1z"/>
<path d="M890,357h4v1h1v1h1v1h1v4h-1v1h-1v1h-1v1h-4v-1h-1v-1h-1v-1h-1v-4h1v-1h1v-1h1z"/>
<path d="M890,266h4v1h1v1h1v1h1v4h-1v1h-1v1h-1v1h-4v-1h-1v-1h-1v-1h-1v-4h1v-1h1v-1h1z"/>
<path d="M890,248h4v1h1v1h1v1h1v4h-1v1h-1v1h-1v1h-4v-1h-1v-1h-1v-1h-1v-4h1v-1h1v-1h1z"/>
<path d="M922,364h4v1h1v1h1v1h1v4h-1v1h-1v1h-1v1h-4v-1h-1v-1h-1v-1h-1v-4h1v-1h1v-1h1z"/>
<path d="M922,273h4v1h1v1h1v1h1v4h-1v1h-1v1h-1v1h-4v-1h-1v-1h-1v-1h-1v-4h1v-1h1v-1h1z"/>
<path d="M922,219h4v1h1v1h1v1h1v4h-1v1h-1v1h-1v1h-4v-1h-1v-1h-1v-1h-1v-4h1v-1h1v-1h1z"/>
<path d="M922,85h4v1h1v1h1v1h1v4h-1v1h-1v1h-1v1h-4v-1h-1v-1h-1v-1h-1v-4h1v-1h1v-1h1z"/>
<path d="M937,328h4v1h1v1h1v1h1v4h-1v1h-1v1h-1v1h-4v-1h-1v-1h-1v-1h-1v-4h1v-1h1v-1h1z"/>
<path d="M937,303h4v1h1v1h1v1h1v4h-1v1h-1v1h-1v1h-4v-1h-1v-1h-1v-1h-1v-4h1v-1h1v-1h1z"/>
<path d="M937,255h4v1h1v1h1v1h1v4h-1v1h-1v1h-1v1h-4v-1h-1v-1h-1v-1h-1v-4h1v-1h1v-1h1z"/>
<path d="M937,230h4v1h1v1h1v1h1v4h-1v1h-1v1h-1v1h-4v-1h-1v-1h-1v-1h-1v-4h1v-1h1v-1h1z"/>
<path d="M952,600h4v1h1v1h1v1h1v4h-1v1h-1v1h-1v1h-4v-1h-1v-1h-1v-1h-1v-4h1v-1h1v-1h1z"/>
<path d="M952,237h4v1h1v1h1v1h1v4h-1v1h-1v1h-1v1h-4v-1h-1v-1h-1v-1h-1v-4h1v-1h1v-1h1z"/>
<path d="M970,393h4v1h1v1h1v1h1v4h-1v1h-1v1h-1v1h-4v-1h-1v-1h-1v-1h-1v-4h1v-1h1v-1h1z"/>
<path d="M970,364h4v1h1v1h1v1h1v4h-1v1h-1v1h-1v1h-4v-1h-1v-1h-1v-1h-1v-4h1v-1h1v-1h1z"/>
<path d="M970,292h4v1h1v1h1v1h1v4h-1v1h-1v1h-1v1h-4v-1h-1v-1h-1v-1h-1v-4h1v-1h1v-1h1z"/>
<path d="M1000,491h4v1h1v1h1v1h1v4h-1v1h-1v1h-1v1h-4v-1h-1v-1h-1v-1h-1v-4h1v-1h1v-1h1z"/>
<path d="M1000,255h4v1h1v1h1v1h1v4h-1v1h-1v1h-1v1h-4v-1h-1v-1h-1v-1h-1v-4h1v-1h1v-1h1z"/>
<path d="M1000,201h4v1h1v1h1v1h1v4h-1v1h-1v1h-1v1h-4v-1h-1v-1h-1v-1h-1v-4h1v-1h1v-1h1z"/>
<path d="M1000,48h4v1h1v1h1v1h1v4h-1v1h-1v1h-1v1h-4v-1h-1v-1h-1v-1h-1v-4h1v-1h1v-1h1z"/>
<path d="M1017,292h4v1h1v1h1v1h1v4h-1v1h-1v1h-1v1h-4v-1h-1v-1h-1v-1h-1v-4h1v-1h1v-1h1z"/>
<path d="M1048,321h4v1h1v1h1v1h1v4h-1v1h-1v1h-1v1h-4v-1h-1v-1h-1v-1h-1v-4h1v-1h1v-1h1z"/>
<path d="M1065,430h4v1h1v1h1v1h1v4h-1v1h-1v1h-1v1h-4v-1h-1v-1h-1v-1h-1v-4h1v-1h1v-1h1z"/>
<path d="M1065,310h4v1h1v1h1v1h1v4h-1v1h-1v1h-1v1h-4v-1h-1v-1h-1v-1h-1v-4h1v-1h1v-1h1z"/>
<path d="M1112,85h4v1h1v1h1v1h1v4h-1v1h-1v1h-1v1h-4v-1h-1v-1h-1v-1h-1v-4h1v-1h1v-1h1z"/>
<path d="M1160,248h4v1h1v1h1v1h1v4h-1v1h-1v1h-1v1h-4v-1h-1v-1h-1v-1h-1v-4h1v-1h1v-1h1z"/>
<path d="M1208,183h4v1h1v1h1v1h1v4h-1v1h-1v1h-1v1h-4v-1h-1v-1h-1v-1h-1v-4h1v-1h1v-1h1z"/>
<path d="M1208,139h4v1h1v1h1v1h1v4h-1v1h-1v1h-1v1h-4v-1h-1v-1h-1v-1h-1v-4h1v-1h1v-1h1z"/>
<path d="M1271,412h4v1h1v1h1v1h1v4h-1v1h-1v1h-1v1h-4v-1h-1v-1h-1v-1h-1v-4h1v-1h1v-1h1z"/>
<path d="M1271,284h4v1h1v1h1v1h1v4h-1v1h-1v1h-1v1h-4v-1h-1v-1h-1v-1h-1v-4h1v-1h1v-1h1z"/>

</g>
</g>
<text class="tk" x="74.7" y="863" text-anchor="end">50</text>
<text class="tk" x="74.7" y="681" text-anchor="end">55</text>
<text class="tk" x="74.7" y="499" text-anchor="end">60</text>
<text class="tk" x="74.7" y="318" text-anchor="end">65</text>
<text class="tk" x="74.7" y="136" text-anchor="end">70</text>
<text class="tk" x="225" y="905.75" text-anchor="middle">12</text>
<rect x="212" y="904" width="5" height="3" fill="#fff" shape-rendering="crispEdges"/><rect x="220" y="904" width="5" height="3" fill="#fff" shape-rendering="crispEdges"/><rect x="217" y="904" width="1" height="2" fill="#fff" fill-opacity="0.6" shape-rendering="crispEdges"/>
<text class="tk" x="606" y="905.75" text-anchor="middle">14</text>
<rect x="593" y="904" width="5" height="3" fill="#fff" shape-rendering="crispEdges"/><rect x="601" y="904" width="5" height="3" fill="#fff" shape-rendering="crispEdges"/><rect x="598" y="904" width="1" height="2" fill="#fff" fill-opacity="0.6" shape-rendering="crispEdges"/>
<text class="tk" x="987" y="905.75" text-anchor="middle">16</text>
<rect x="974" y="904" width="5" height="3" fill="#fff" shape-rendering="crispEdges"/><rect x="982" y="904" width="5" height="3" fill="#fff" shape-rendering="crispEdges"/><rect x="979" y="904" width="1" height="2" fill="#fff" fill-opacity="0.6" shape-rendering="crispEdges"/>
<text class="ti" x="654.0 669.4 685.7 701.1 719.6 735.7 753.2" y="939.5">ageYear</text>
<text class="ti" transform="translate(37.3,444.3) rotate(-90)" text-anchor="middle" letter-spacing="-0.44">heightIn</text>
</svg>
</body></html>
